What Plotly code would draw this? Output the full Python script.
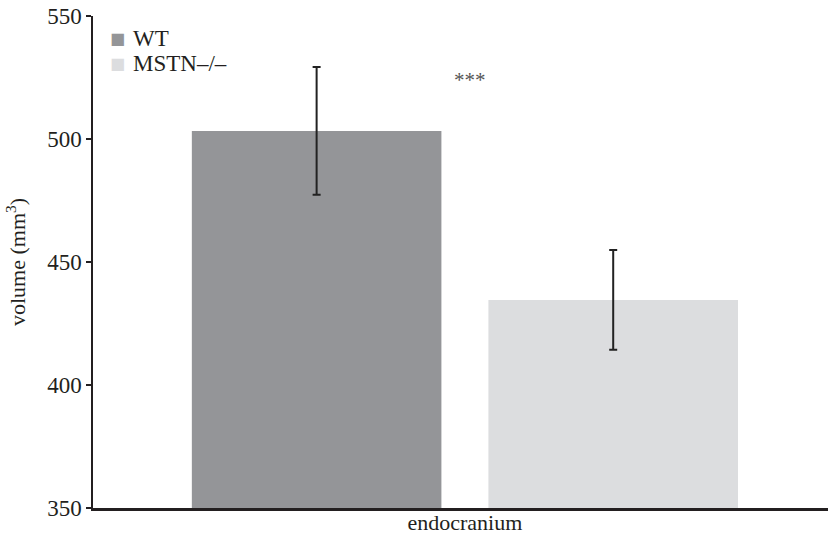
import plotly.graph_objects as go

categories = ["endocranium"]
groups = ["WT", "MSTN\u2013/\u2013"]
means = [503.3, 434.6]
errors = [26.0, 20.3]
colors = ["#949598", "#dcdddf"]
y_ticks = [350, 400, 450, 500, 550]

FONT = "Liberation Serif"

fig = go.Figure()
for g, m, e, c in zip(groups, means, errors, colors):
    fig.add_trace(go.Bar(
        x=categories, y=[m], name=g, marker=dict(color=c, line=dict(width=0)),
        error_y=dict(type="data", array=[e], visible=True, color="#222222",
                     thickness=2, width=4),
        showlegend=False,
    ))

# legend drawn as annotations (square + label)
legend_y = [0.955, 0.903]
for g, c, ly in zip(groups, colors, legend_y):
    fig.add_annotation(
        x=(117 - 93) / 735, y=ly, xref="paper", yref="paper",
        xanchor="center", yanchor="middle", text="\u25A0",
        showarrow=False, font=dict(size=16, color=c, family="DejaVu Sans"))
    fig.add_annotation(
        x=(131 - 93) / 735, y=ly, xref="paper", yref="paper",
        xanchor="left", yanchor="middle", text=g,
        showarrow=False, font=dict(size=23, color="#231f20", family=FONT))

fig.add_annotation(x=(470 - 93) / 735, y=(508 - 66) / 492, xref="paper", yref="paper",
                   text="***", showarrow=False,
                   font=dict(size=21, color="#555555", family=FONT))

fig.update_layout(
    width=828, height=535,
    margin=dict(l=93, r=0, t=16, b=27),
    paper_bgcolor="white", plot_bgcolor="white",
    barmode="group", bargap=0.193, bargroupgap=0.1585,
    font=dict(family=FONT, size=23, color="#231f20"),
    showlegend=False,
    xaxis=dict(showline=True, linecolor="#231f20", linewidth=2.5,
               range=[-0.506, 0.494],
               ticks="", tickfont=dict(size=22), showgrid=False,
               automargin=False, ticklabelstandoff=-7),
    yaxis=dict(range=[350, 550], tickvals=y_ticks, showline=True,
               linecolor="#231f20", linewidth=1.5, ticks="outside",
               ticklen=5, tickwidth=1.5, tickcolor="#231f20",
               showgrid=False, zeroline=False, automargin=False,
               tickfont=dict(size=23),
               title=dict(text="volume (mm<sup>3</sup>)", font=dict(size=22))),
)

fig.write_html(
    "out.html",
    config={"displayModeBar": False},
    post_script="document.body.style.margin='0';document.body.style.overflow='hidden';",
)
